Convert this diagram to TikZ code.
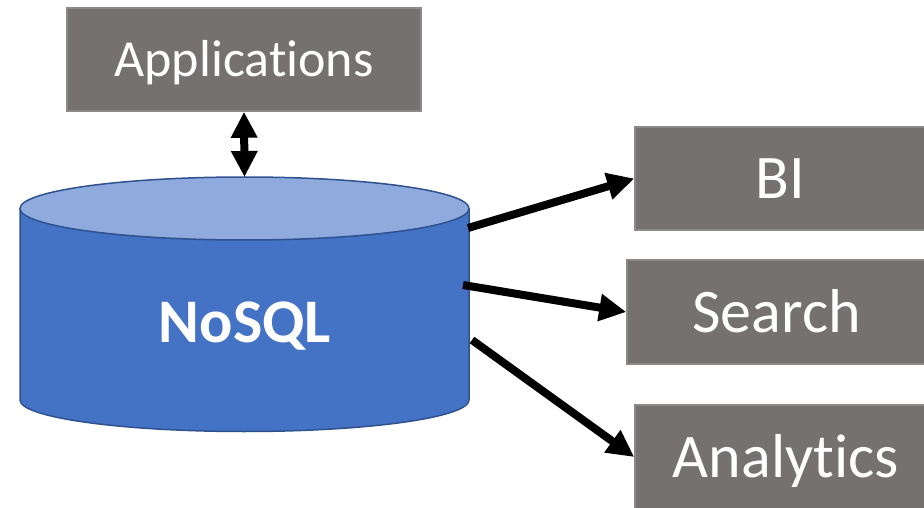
\documentclass[tikz,border=0pt]{standalone}
\usepackage{fontspec}
\setmainfont{Carlito}[Ligatures={NoCommon,NoContextual,NoRequired},RawFeature={-liga;-clig;-calt;-dlig}]
\usetikzlibrary{arrows.meta}
\definecolor{boxgray}{RGB}{118,113,113}
\definecolor{boxedge}{RGB}{140,137,137}
\definecolor{cylbody}{RGB}{68,114,196}
\definecolor{cyltop}{RGB}{143,170,220}
\definecolor{cyledge}{RGB}{47,82,143}
\tikzset{
  grbox/.style={fill=boxgray, draw=boxedge, line width=1.5pt, inner sep=0pt, text=white, font=\fontsize{62}{70}\selectfont, text height=40pt, text depth=0pt},
  fatarrow/.style={line width=8pt, -{Triangle[length=27pt,width=26pt]}},
  dblarrow/.style={line width=8pt, {Triangle[length=26pt,width=25pt]}-{Triangle[length=26pt,width=25pt]}}
}
\begin{document}
\begin{tikzpicture}[x=1pt,y=1pt]
\useasboundingbox (0,0) rectangle (924,507);
% cylinder
\fill[cylbody] (20,298.5) -- (20,107) arc[start angle=180, end angle=360, x radius=224.5, y radius=31.5] -- (469,298.5) -- cycle;
\draw[cyledge, line width=1.5pt] (20,298.5) -- (20,107) arc[start angle=180, end angle=360, x radius=224.5, y radius=31.5] -- (469,298.5);
\draw[cyledge, line width=1.5pt, fill=cyltop] (244.5,298.5) ellipse[x radius=224.5, y radius=31.5];
\node[text=white, font=\fontsize{62}{70}\selectfont\bfseries, text height=40pt, text depth=0pt, inner sep=0pt] (nosql) at (245,185) {NoSQL};
\coordinate (cyltopc) at (244.5,330);
\coordinate (outbi) at (468,279);
\coordinate (outsearch) at (463,222);
\coordinate (outana) at (472,167);
% boxes
\node[grbox, minimum width=354pt, minimum height=103pt, font=\fontsize{52}{60}\selectfont, text height=33.5pt] (app) at (244,447.5) {Applications};
\node[grbox, minimum width=291pt, minimum height=103pt] (bi) at (780.5,328.5) {BI};
\node[grbox, minimum width=299pt, minimum height=104pt] (search) at (776.5,195) {Search};
\node[grbox, minimum width=302pt, minimum height=104pt] (ana) at (786,50) {Analytics};
% arrows
\draw[dblarrow] (app.south) -- (cyltopc);
\draw[fatarrow] (outbi) -- (bi.west);
\draw[fatarrow] (outsearch) -- (search.west);
\draw[fatarrow] (outana) -- (ana.west);
\end{tikzpicture}
\end{document}
